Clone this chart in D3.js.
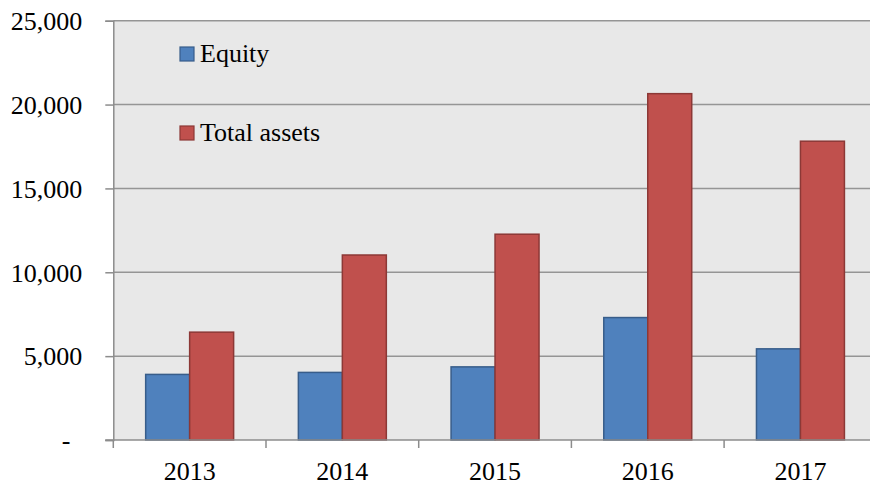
<!DOCTYPE html>
<html>
<head>
<meta charset="utf-8">
<script src="https://cdn.jsdelivr.net/npm/d3@7"></script>
<style>
  html, body { margin: 0; padding: 0; background: #fff; }
  svg { display: block; }
  text { font-family: "Liberation Serif", "Times New Roman", serif; fill: #000; }
</style>
</head>
<body>
<svg id="chart"></svg>
<script>
  const years = ['2013', '2014', '2015', '2016', '2017'];
  const equity = [3910, 4030, 4360, 7300, 5435];
  const totalAssets = [6430, 11030, 12270, 20650, 17815];
  const seriesNames = ['Equity', 'Total assets'];
  const seriesColors = ['#4f81bd', '#c0504d'];
  const seriesStrokes = ['#385d8a', '#8c3836'];
  const yTicks = [0, 5000, 10000, 15000, 20000, 25000];

  const width = 870, height = 486;
  const plot = { left: 113.3, right: 876.8, top: 20.7, bottom: 440 };

  const svg = d3.select('#chart').attr('width', width).attr('height', height);

  const x = d3.scaleBand().domain(years).range([plot.left, plot.right]).padding(0);
  const y = d3.scaleLinear().domain([0, 25000]).range([plot.bottom, plot.top]);
  const xSub = d3.scaleBand().domain(seriesNames)
    .range([x.bandwidth() * 0.212, x.bandwidth() * 0.788]).padding(0);

  // plot area background
  svg.append('rect')
    .attr('x', plot.left).attr('y', plot.top)
    .attr('width', plot.right - plot.left).attr('height', plot.bottom - plot.top)
    .attr('fill', '#e8e8e8');

  // gridlines
  svg.append('g')
    .selectAll('line')
    .data(yTicks.filter(d => d > 0))
    .enter().append('line')
    .attr('x1', plot.left).attr('x2', plot.right)
    .attr('y1', d => y(d)).attr('y2', d => y(d))
    .attr('stroke', '#959595').attr('stroke-width', 1.5);

  // bars
  const rows = years.map((yr, i) => ({ year: yr, values: [equity[i], totalAssets[i]] }));
  const groups = svg.append('g').selectAll('g')
    .data(rows).enter().append('g')
    .attr('transform', d => `translate(${x(d.year)},0)`);

  groups.selectAll('rect')
    .data(d => d.values.map((v, j) => ({ name: seriesNames[j], value: v, j: j })))
    .enter().append('rect')
    .attr('x', d => xSub(d.name))
    .attr('y', d => y(d.value))
    .attr('width', xSub.bandwidth())
    .attr('height', d => plot.bottom - y(d.value))
    .attr('fill', d => seriesColors[d.j])
    .attr('stroke', d => seriesStrokes[d.j])
    .attr('stroke-width', 1.5);

  // y axis
  const yAxis = svg.append('g')
    .attr('transform', `translate(${plot.left},0)`)
    .call(d3.axisLeft(y).tickValues(yTicks).tickSize(8).tickPadding(23)
      .tickFormat(d => d === 0 ? '-' : d3.format(',')(d)));
  yAxis.attr('font-family', null);
  yAxis.select('.domain').attr('stroke', '#8c8c8c').attr('stroke-width', 1.5);
  yAxis.selectAll('.tick line').attr('stroke', '#8c8c8c').attr('stroke-width', 1.5);
  yAxis.selectAll('.tick text')
    .style('font-size', '26px')
    .attr('dy', '0.34em')
    .attr('fill', '#000');
  yAxis.selectAll('.tick text').filter(d => d === 0).attr('x', -43);

  // x axis
  const xAxis = svg.append('g')
    .attr('transform', `translate(0,${plot.bottom})`);
  xAxis.append('line')
    .attr('x1', plot.left - 8).attr('x2', plot.right)
    .attr('y1', 0).attr('y2', 0)
    .attr('stroke', '#8c8c8c').attr('stroke-width', 1.5);
  xAxis.selectAll('.xtick')
    .data(years.concat(['end']))
    .enter().append('line')
    .attr('class', 'xtick')
    .attr('x1', (d, i) => plot.left + i * x.bandwidth())
    .attr('x2', (d, i) => plot.left + i * x.bandwidth())
    .attr('y1', 0).attr('y2', 8)
    .attr('stroke', '#8c8c8c').attr('stroke-width', 1.5);
  xAxis.selectAll('.xlabel')
    .data(years)
    .enter().append('text')
    .attr('class', 'xlabel')
    .attr('x', d => x(d) + x.bandwidth() / 2)
    .attr('y', 40)
    .attr('text-anchor', 'middle')
    .style('font-size', '26px')
    .text(d => d);

  // legend
  const legend = svg.append('g').attr('transform', 'translate(180,47)');
  const items = legend.selectAll('g')
    .data(seriesNames).enter().append('g')
    .attr('transform', (d, i) => `translate(0,${i * 79})`);
  items.append('rect')
    .attr('width', 14).attr('height', 14)
    .attr('fill', (d, i) => seriesColors[i])
    .attr('stroke', (d, i) => seriesStrokes[i])
    .attr('stroke-width', 1.2);
  items.append('text')
    .attr('x', 20).attr('y', 15)
    .style('font-size', '26px')
    .text(d => d);
</script>
</body>
</html>
